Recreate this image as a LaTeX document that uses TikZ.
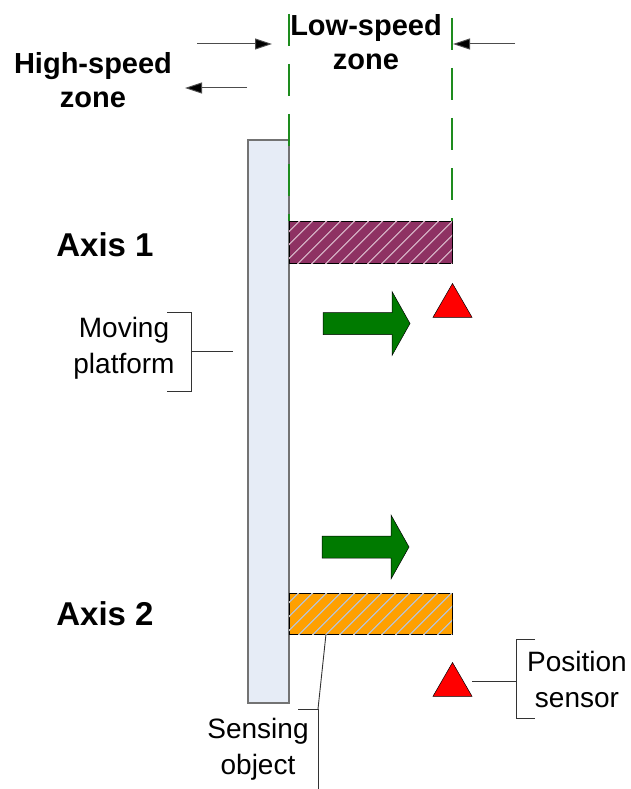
\documentclass[tikz,border=0pt]{standalone}
\usepackage{fontspec}
\setmainfont{Liberation Sans}
\usetikzlibrary{arrows.meta,shapes.geometric,patterns.meta}
\definecolor{platfill}{HTML}{E6ECF6}
\definecolor{barpurple}{HTML}{8E3163}
\definecolor{barorange}{HTML}{FFA000}
\definecolor{movegreen}{HTML}{007A00}
\definecolor{zonegreen}{HTML}{1E8C1E}
\tikzset{
  boldlbl/.style={align=center,font=\fontsize{29}{34}\selectfont\bfseries,inner sep=0pt},
  axislbl/.style={font=\fontsize{33}{40}\selectfont\bfseries,inner sep=0pt},
  txtlbl/.style={align=center,font=\fontsize{28}{36}\selectfont,inner sep=0pt},
  bar/.style={draw=black,line width=0.8pt,minimum width=163pt,inner sep=0pt,outer sep=0pt},
  hatch/.style={postaction={pattern={Lines[angle=45,distance=10.5pt,line width=1.6pt]},pattern color=#1}},
  movearrow/.pic={\draw[black,line width=0.5pt,fill=movegreen](0,-11)--(69,-11)--(69,-32)--(87,0)--(69,32)--(69,11)--(0,11)--cycle;},
  sensor/.style={regular polygon,regular polygon sides=3,draw=black,line width=0.5pt,fill=red,minimum size=45pt,inner sep=0pt,outer sep=0pt},
  zone/.style={zonegreen,line width=1.3pt,dash pattern=on 32pt off 18pt},
  arr/.style={-{Triangle[length=17pt,width=11pt,fill=black]},draw=black!70,line width=1pt},
  lead/.style={draw=black!80,line width=0.9pt}
}
\begin{document}
\begin{tikzpicture}[x=1pt,y=-1pt]
\useasboundingbox (0,0) rectangle (630,789);
% moving platform and sensing objects
\node[draw=black!55,line width=1.5pt,fill=platfill,minimum width=41pt,minimum height=563pt,inner sep=0pt,outer sep=0pt](plat)at(268.5,421.5){};
\node[bar,fill=barpurple,hatch=white!55!barpurple,minimum height=42pt](bar1)at(370.5,242){};
\node[bar,fill=barorange,hatch=black!25!white,minimum height=41pt](bar2)at(370.5,613.5){};
% zone borders
\coordinate(zl)at(289,14);
\coordinate(zr)at(452,18);
\draw[zone](zl)--(zl|-bar1.north);
\draw[zone](zr)--(zr|-bar1.north);
% labels
\node[boldlbl](low)at(366,42){Low-speed\\zone};
\node[boldlbl](high)at(93,80){High-speed\\zone};
\node[axislbl](ax1)at(105,245){Axis 1};
\node[axislbl](ax2)at(105,614){Axis 2};
\node[txtlbl](mp)at(124,348){Moving\\platform};
\node[txtlbl](ps)at(577,679){Position\\sensor};
\node[txtlbl](so)at(258,749){Sensing\\object};
% zone arrows
\coordinate(a1s)at(197,44);\coordinate(a1e)at(272,44);
\coordinate(a2s)at(515,44);\coordinate(a2e)at(453,44);
\coordinate(a3s)at(247,88);\coordinate(a3e)at(185,88);
\foreach\a/\b in{a1s/a1e,a2s/a2e,a3s/a3e}\draw[arr](\a)--(\b);
% motion arrows and sensors
\pic(mv1)at(323,323.5){movearrow};
\pic(mv2)at(322,547){movearrow};
\node[sensor](tri1)at(452.5,306){};
\node[sensor](tri2)at(452.5,685){};
% callouts
\coordinate(mpb)at(191,351);
\draw[lead](167,312)-|(191,391)--(167,391);
\draw[lead](mpb)--(233,351);
\coordinate(psb)at(516,681);
\draw[lead](535,639)-|(516,718)--(535,718);
\draw[lead](472,681)--(psb);
\coordinate(sob)at(318,709);
\draw[lead](bar2.south-|326,0)--(sob);
\draw[lead](298,709)--(sob)--(318,789);
\end{tikzpicture}
\end{document}
